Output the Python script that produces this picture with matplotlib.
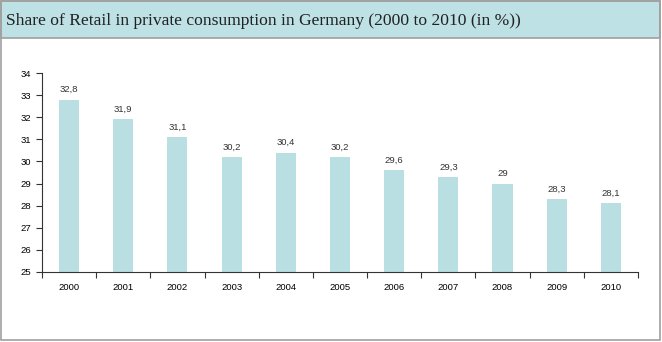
import matplotlib.pyplot as plt
from matplotlib.patches import Rectangle

years = ["2000", "2001", "2002", "2003", "2004", "2005", "2006", "2007", "2008", "2009", "2010"]
shares = [32.8, 31.9, 31.1, 30.2, 30.4, 30.2, 29.6, 29.3, 29.0, 28.3, 28.1]
labels = ["32,8", "31,9", "31,1", "30,2", "30,4", "30,2", "29,6", "29,3", "29", "28,3", "28,1"]

bar_color = "#b9dfe3"
head_color = "#bde1e5"

fig = plt.figure(figsize=(6.62, 3.42), dpi=100)

# header band and frame
fig.patches.append(Rectangle((0.002, 0.889), 0.995, 0.108, transform=fig.transFigure,
                             facecolor=head_color, edgecolor="#a0a0a0", lw=1.2))
fig.patches.append(Rectangle((0.002, 0.006), 0.995, 0.991, transform=fig.transFigure,
                             facecolor="none", edgecolor="#a0a0a0", lw=1.2))
fig.text(0.009, 0.940, "Share of Retail in private consumption in Germany (2000 to 2010 (in %))",
         family="Liberation Serif", fontsize=12.6, va="center", ha="left", color="#222222")

ax = fig.add_axes([0.0634, 0.2047, 0.9003, 0.5818])
x = range(len(years))
ax.bar(x, shares, width=0.37, color=bar_color, bottom=0)
ax.set_ylim(25, 34)
ax.set_xlim(-0.5, len(years) - 0.5)
ax.set_yticks(range(25, 35))

for i, v in enumerate(shares):
    ax.text(i, v + 0.25, labels[i], ha="center", va="bottom", fontsize=6.8,
            family="Liberation Sans", color="#333333")

ax.set_xticks([i + 0.5 for i in range(-1, len(years))], minor=False)
ax.set_xticklabels([])
ax.set_xticks(list(x), minor=True)
ax.set_xticklabels(years, minor=True, fontsize=6.8, family="Liberation Sans")
ax.tick_params(axis="x", which="minor", length=0, pad=8)
ax.tick_params(axis="x", which="major", length=4, direction="out", color="#333333")
ax.tick_params(axis="y", length=4, direction="out", labelsize=6.8, color="#333333")
for lab in ax.get_yticklabels():
    lab.set_family("Liberation Sans")

ax.spines["top"].set_visible(False)
ax.spines["right"].set_visible(False)
ax.spines["left"].set_color("#333333")
ax.spines["bottom"].set_color("#333333")

fig.savefig("out.png", dpi=100)
